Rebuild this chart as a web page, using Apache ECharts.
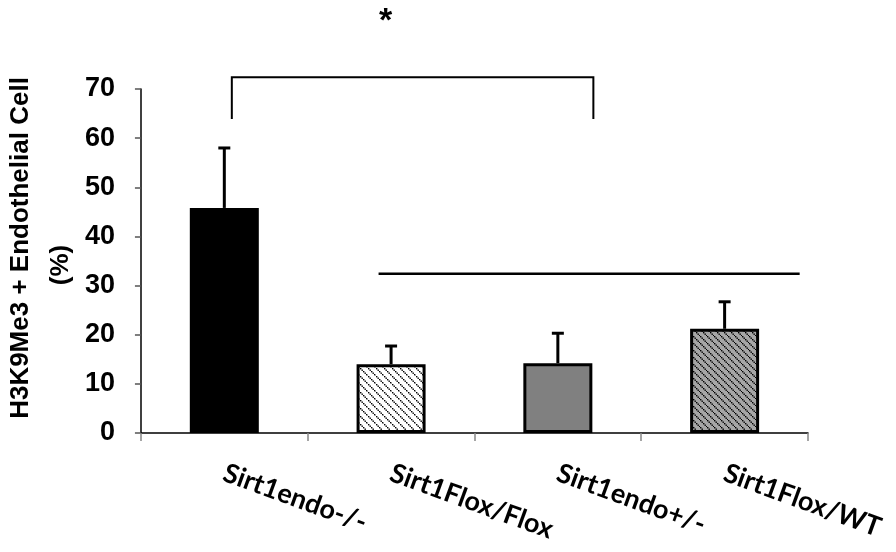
<!DOCTYPE html>
<html>
<head>
<meta charset="utf-8">
<script src="https://cdn.jsdelivr.net/npm/echarts@6/dist/echarts.min.js"></script>
<style>
  html, body { margin: 0; padding: 0; background: #fff; }
  #main { width: 896px; height: 552px; }
</style>
</head>
<body>
<div id="main"></div>
<script>
// data
const categories = ['Sirt1endo-/-', 'Sirt1Flox/Flox', 'Sirt1endo+/-', 'Sirt1Flox/WT'];
const means = [45.8, 14.0, 14.2, 21.2];
const errors = [12.2, 3.7, 6.1, 5.5];
const yTicks = [0, 10, 20, 30, 40, 50, 60, 70];

// significance annotations (x in category units, y in %)
const bracketX = [0.045, 2.213];
const bracketY = [63.9, 72.4];
const starPos = [0.967, 83.8];
const lineX = [0.925, 3.45];
const lineY = 32.4;

function hatch(bg, size, step) {
  const c = document.createElement('canvas');
  c.width = size; c.height = size;
  const g = c.getContext('2d');
  g.fillStyle = bg;
  g.fillRect(0, 0, size, size);
  g.fillStyle = '#000';
  // dotted diagonal line, top-left to bottom-right
  for (let i = 0; i < size; i += step) {
    g.fillRect(i, i, 1.4, 1.4);
  }
  return c;
}

const fills = [
  '#000000',
  { image: hatch('#ffffff', 8, 1.5), repeat: 'repeat' },
  '#808080',
  { image: hatch('#a6a6a6', 7, 1.5), repeat: 'repeat' }
];

const mainE1 = document.querySelector('#main');
let myChart = echarts.init(mainE1);

let option = {
  animation: false,
  grid: { left: 140, right: 88, top: 89, bottom: 119 },
  xAxis: [
    {
      type: 'category',
      data: categories,
      axisLine: { onZero: false, lineStyle: { color: '#000', width: 1.5 } },
      axisTick: { show: true, length: 8, lineStyle: { color: '#888', width: 1.5 } },
      axisLabel: {
        rotate: -20,
        margin: 39,
        color: '#000',
        fontFamily: 'Lato',
        fontWeight: 'bold',
        fontSize: 27
      }
    },
    {
      type: 'value', min: -0.5, max: 3.5, show: false
    }
  ],
  yAxis: {
    type: 'value',
    min: 0, max: 70, interval: 10,
    splitLine: { show: false },
    axisLine: { show: true, onZero: false, lineStyle: { color: '#000', width: 1.5 } },
    axisTick: { show: true, length: 6, lineStyle: { color: '#555', width: 1.5 } },
    axisLabel: {
      margin: 26,
      color: '#000',
      fontFamily: 'Liberation Sans',
      fontWeight: 'bold',
      fontSize: 27,
      formatter: v => yTicks.includes(v) ? String(v) : ''
    },
    name: '{a|H3K9Me3 + Endothelial Cell}\n{b|(%)}',
    nameLocation: 'middle',
    nameRotate: 90,
    nameGap: 56,
    nameTextStyle: {
      rich: {
        a: { fontFamily: 'Liberation Sans', fontWeight: 'bold', fontSize: 26, color: '#000', lineHeight: 40, padding: [0, 0, 0, 26] },
        b: { fontFamily: 'Liberation Sans', fontWeight: 'bold', fontSize: 26, color: '#000', lineHeight: 40, padding: [0, 8, 0, 0] }
      }
    }
  },
  series: [
    {
      type: 'bar',
      barWidth: 69,
      data: means.map((v, i) => ({
        value: v,
        itemStyle: {
          color: fills[i],
          borderColor: '#000',
          borderWidth: i === 0 ? 0 : 3
        }
      }))
    },
    {
      type: 'custom',
      data: means.map((v, i) => [i, v, v + errors[i]]),
      renderItem: (params, api) => {
        const lo = api.coord([api.value(0), api.value(1)]);
        const hi = api.coord([api.value(0), api.value(2)]);
        const style = { stroke: '#000', lineWidth: 3 };
        return {
          type: 'group',
          children: [
            { type: 'line', shape: { x1: lo[0], y1: lo[1], x2: hi[0], y2: hi[1] }, style },
            { type: 'line', shape: { x1: hi[0] - 6, y1: hi[1], x2: hi[0] + 6, y2: hi[1] }, style }
          ]
        };
      },
      z: 3
    },
    {
      type: 'custom',
      xAxisIndex: 1,
      clip: false,
      data: [[0]],
      renderItem: (params, api) => {
        const p1 = api.coord([bracketX[0], bracketY[0]]);
        const p2 = api.coord([bracketX[0], bracketY[1]]);
        const p3 = api.coord([bracketX[1], bracketY[1]]);
        const p4 = api.coord([bracketX[1], bracketY[0]]);
        const l1 = api.coord([lineX[0], lineY]);
        const l2 = api.coord([lineX[1], lineY]);
        const s = api.coord(starPos);
        return {
          type: 'group',
          children: [
            { type: 'polyline', shape: { points: [p1, p2, p3, p4] }, style: { stroke: '#000', lineWidth: 2, fill: null } },
            { type: 'line', shape: { x1: l1[0], y1: l1[1], x2: l2[0], y2: l2[1] }, style: { stroke: '#000', lineWidth: 2.5 } },
            { type: 'text', x: s[0], y: s[1], style: { text: '*', fill: '#000', fontFamily: 'Liberation Sans', fontWeight: 'bold', fontSize: 34, align: 'center', verticalAlign: 'middle' } }
          ]
        };
      }
    }
  ]
};

myChart.setOption(option);
</script>
</body>
</html>
